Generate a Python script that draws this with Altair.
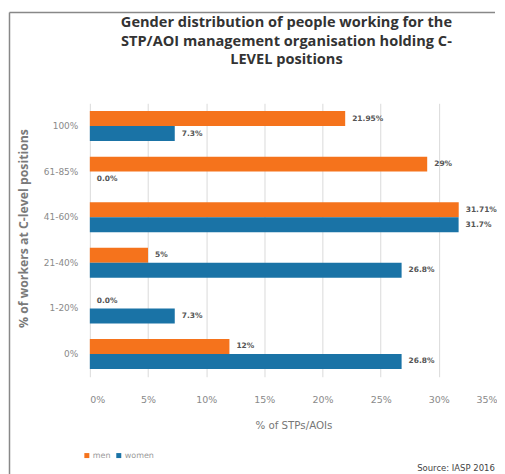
import altair as alt
import pandas as pd

title_lines = ["Gender distribution of people working for the",
               "STP/AOI management organisation holding C-",
               "LEVEL positions"]
categories = ["100%", "61-85%", "41-60%", "21-40%", "1-20%", "0%"]
men = [21.95, 29, 31.71, 5, 0.0, 12]
women = [7.3, 0.0, 31.7, 26.8, 7.3, 26.8]
men_labels = ["21.95%", "29%", "31.71%", "5%", "0.0%", "12%"]
women_labels = ["7.3%", "0.0%", "31.7%", "26.8%", "7.3%", "26.8%"]
x_ticks = [0, 5, 10, 15, 20, 25, 30, 35]
source_note = "Source: IASP 2016"

rows = []
for c, m, w, ml, wl in zip(categories, men, women, men_labels, women_labels):
    rows.append({"cat": c, "gender": "men", "val": m, "label": ml})
    rows.append({"cat": c, "gender": "women", "val": w, "label": wl})
df = pd.DataFrame(rows)

TFONT = "Open Sans"
LFONT = "DejaVu Sans"
color = alt.Color(
    "gender:N",
    scale=alt.Scale(domain=["men", "women"], range=["#F5731C", "#1A73A6"]),
    legend=alt.Legend(
        title=None, orient="none", legendX=-7, legendY=349, direction="horizontal",
        symbolType="square", symbolSize=25, labelFontSize=8, labelColor="#999999",
        labelFont=LFONT, columnPadding=4, labelOffset=2, symbolOffset=0,
    ),
)

base = alt.Chart(df).encode(
    y=alt.Y("cat:N", sort=categories,
            scale=alt.Scale(paddingInner=0.34, paddingOuter=0.17),
            axis=alt.Axis(title="% of workers at C-level positions", titleFontSize=12.3,
                          titleColor="#7a7a7a", titleFont=TFONT, titleFontWeight="bold",
                          titleX=-66, titleY=125, titleAngle=270, titleBaseline="middle",
                          titleAlign="center",
                          labelFontSize=9, labelColor="#8a8a8a", labelFont=LFONT,
                          ticks=False, domain=False, labelPadding=12)),
    yOffset=alt.YOffset("gender:N", sort=["men", "women"]),
)

bars = base.mark_bar(size=15).encode(
    x=alt.X("val:Q", scale=alt.Scale(domain=[0, 35], nice=False),
            axis=alt.Axis(title="% of STPs/AOIs", values=x_ticks,
                          labelExpr="datum.value + '%'", grid=True, gridColor="#DADADA",
                          domain=False, ticks=False, labelFontSize=9.5, labelColor="#8a8a8a",
                          labelFont=LFONT, labelPadding=18, titleFontSize=10.3,
                          titleColor="#777777", titleFont=LFONT, titleFontWeight="normal",
                          titlePadding=16)),
    color=color,
)

labels = base.mark_text(align="left", dx=7, fontSize=7.5, fontWeight="bold",
                        color="#555555", font=LFONT).encode(
    x="val:Q",
    text="label:N",
)

source = alt.Chart(pd.DataFrame({"t": [source_note]})).mark_text(
    align="left", fontSize=8.5, color="#444444", font=LFONT, limit=79, ellipsis=""
).encode(x=alt.value(328), y=alt.value(365), text="t:N")

title = alt.Chart(pd.DataFrame({"f": [0]})).mark_text(
    text=title_lines, align="center", baseline="top", lineHeight=18.5,
    fontSize=14.6, fontWeight="bold", font=TFONT, color="#333333"
).encode(x=alt.value(197), y=alt.value(-88))

frame_top = alt.Chart(pd.DataFrame({"f": [0]})).mark_rule(
    stroke="#888888", strokeWidth=1.5
).encode(x=alt.value(-80.5), x2=alt.value(406), y=alt.value(-91))

frame_left = alt.Chart(pd.DataFrame({"f": [0]})).mark_rule(
    stroke="#888888", strokeWidth=1.5
).encode(x=alt.value(-80.5), y=alt.value(-91), y2=alt.value(380))

chart = alt.layer(frame_top, frame_left, title, bars, labels, source).properties(
    width=408, height=274,
    padding={"left": 0, "top": 3, "right": 0, "bottom": 0},
).configure_view(stroke=None)

chart.save("out.html", embed_options={"renderer": "svg", "actions": False})
